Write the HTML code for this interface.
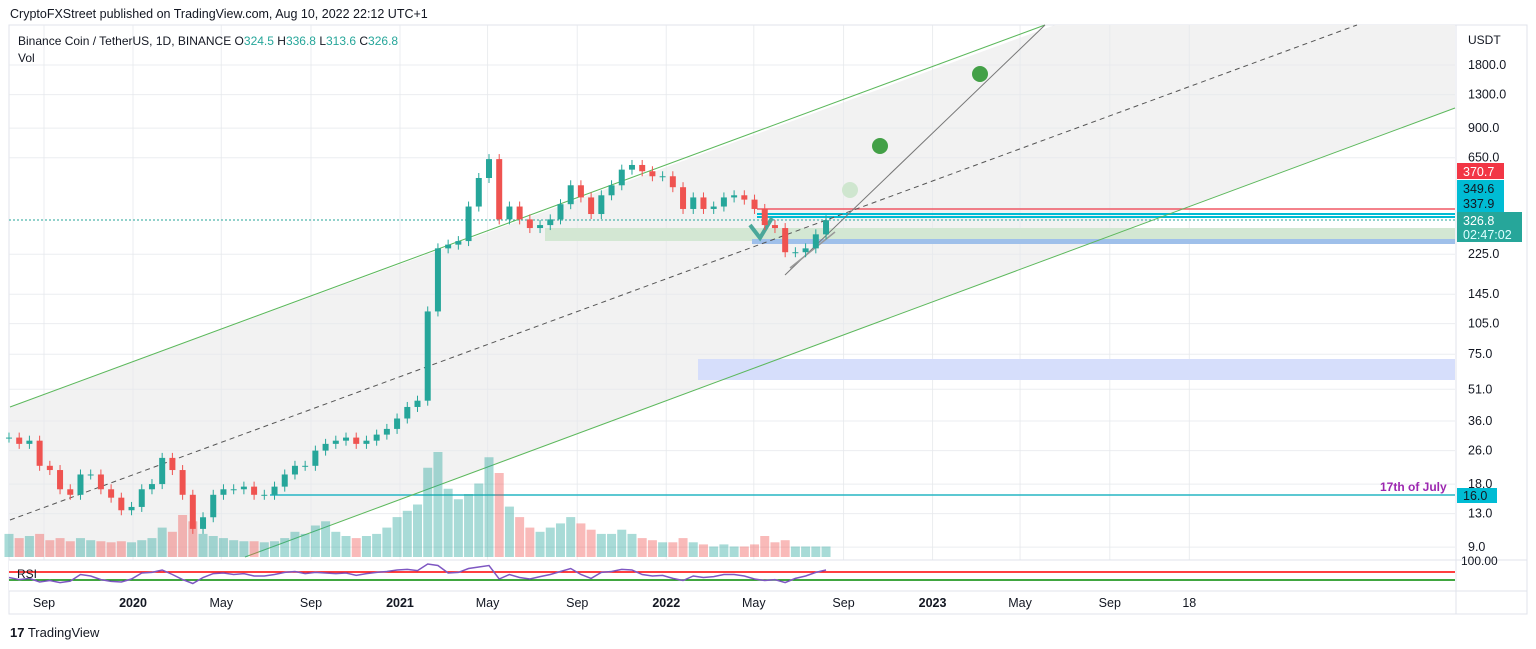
<!DOCTYPE html>
<html><head><meta charset="utf-8"><style>
body{margin:0;background:#fff;font-family:"Liberation Sans",sans-serif;}
svg{display:block}
text{font-family:"Liberation Sans",sans-serif}
</style></head><body>
<svg id="c" width="1536" height="649" viewBox="0 0 1536 649">
<text x="10" y="18" font-size="12.5" fill="#131722">CryptoFXStreet published on TradingView.com, Aug 10, 2022 22:12 UTC+1</text>
<rect x="9" y="25" width="1518" height="589" fill="#fff" stroke="#e0e3eb"/>
<polygon points="10,407 1055,25 1455,25 1455,108 245,557 10,557" fill="#f2f2f2"/>
<g id="grid2"></g>
<rect x="698" y="359" width="757" height="21" fill="#d6defb"/>
<rect x="545" y="228" width="910" height="13" fill="#d3e7d3"/>
<rect x="752" y="239" width="703" height="5" fill="#9fc0ea"/>
<line x1="757" y1="209" x2="1455" y2="209" stroke="#f05865" stroke-width="1.5"/>
<line x1="757" y1="214" x2="1455" y2="214" stroke="#00bcd4" stroke-width="2"/>
<line x1="757" y1="217" x2="1455" y2="217" stroke="#00bcd4" stroke-width="2"/>
<line x1="9" y1="220" x2="1455" y2="220" stroke="#26a69a" stroke-dasharray="2,2"/>
<line x1="270" y1="495" x2="1455" y2="495" stroke="#26b5c4" stroke-width="1.5"/>
<line x1="10" y1="407" x2="1045" y2="25" stroke="#5cb85c"/>
<line x1="245" y1="557" x2="1455" y2="108" stroke="#5cb85c"/>
<line x1="10" y1="520" x2="1357" y2="25" stroke="#555" stroke-dasharray="5,4"/>
<line x1="785" y1="275" x2="1045" y2="25" stroke="#777"/>
<line x1="790" y1="268" x2="835" y2="232" stroke="#999" stroke-width="1.5"/>
<polyline points="750,225 760,238 772,218" fill="none" stroke="#4aa79a" stroke-width="4"/>
<circle cx="980" cy="74" r="8" fill="#43a047"/>
<circle cx="880" cy="146" r="8" fill="#43a047"/>
<circle cx="850" cy="190" r="8" fill="#cfe6cf"/>
<g id="vol"></g>
<g id="candles"></g>
<text x="18" y="45" font-size="12" fill="#131722">Binance Coin / TetherUS, 1D, BINANCE <tspan>O</tspan><tspan fill="#26a69a">324.5 </tspan>H<tspan fill="#26a69a">336.8 </tspan>L<tspan fill="#26a69a">313.6 </tspan>C<tspan fill="#26a69a">326.8</tspan></text>
<text x="18" y="62" font-size="12" fill="#131722">Vol</text>
<rect x="9" y="560" width="1446" height="31" fill="#fff"/>
<line x1="9" y1="560" x2="1527" y2="560" stroke="#e0e3eb"/>
<line x1="9" y1="572" x2="1455" y2="572" stroke="#f00" stroke-width="1.5"/>
<line x1="9" y1="580" x2="1455" y2="580" stroke="#080" stroke-width="1.5"/>
<g id="rsi"></g>
<text x="17" y="578" font-size="12" fill="#131722">RSI</text>
<line x1="9" y1="591" x2="1527" y2="591" stroke="#e0e3eb"/>
<line x1="1456" y1="25" x2="1456" y2="614" stroke="#e0e3eb"/>
<g id="yax"></g>
<g id="xax"></g>
<text x="1468" y="44" font-size="12" fill="#131722">USDT</text>
<text x="1461" y="565" font-size="12" fill="#131722">100.00</text>
<rect x="1457" y="163" width="47" height="16" fill="#f23645"/>
<text x="1463" y="176" font-size="12.5" fill="#fff">370.7</text>
<rect x="1457" y="180" width="47" height="32" fill="#00bcd4"/>
<text x="1463" y="193" font-size="12.5" fill="#131722">349.6</text>
<text x="1463" y="208" font-size="12.5" fill="#131722">337.9</text>
<rect x="1457" y="212" width="65" height="30" fill="#26a69a"/>
<text x="1463" y="225" font-size="12.5" fill="#fff">326.8</text>
<text x="1463" y="239" font-size="12.5" fill="#dff">02:47:02</text>
<text x="1380" y="491" font-size="12" font-weight="bold" fill="#9c27b0">17th of July</text>
<rect x="1457" y="488" width="40" height="15" fill="#00bcd4"/>
<text x="1463" y="500" font-size="12.5" fill="#131722">16.0</text>
<text x="10" y="637" font-size="13" fill="#131722"><tspan font-weight="bold">17</tspan> TradingView</text>
</svg>
<script>
var closes=[30,28,29,22,21,17,16,20,20,17,15.5,13.5,14,17,18,24,21,16,11,12.5,16,17,17,17.5,16,16,17.5,20,22,22,26,28,29,30,28,29,31,33,37,42,45,120,240,250,260,380,520,640,330,380,330,300,310,330,390,480,420,350,430,480,570,600,560,530,530,470,370,420,370,380,420,430,410,370,310,300,230,230,240,280,327];
var volumes=[22,18,20,22,16,18,15,18,16,15,14,15,14,16,18,28,24,40,34,22,20,18,16,15,15,14,15,18,24,22,30,34,24,20,18,20,22,28,38,44,50,85,100,65,55,60,70,95,80,48,38,28,24,28,32,38,32,26,22,22,26,22,18,16,14,14,18,14,12,10,12,10,10,12,20,14,16,10,10,10,10];
var rsiVals=[45,38,42,30,35,28,33,55,50,38,32,30,40,60,62,70,55,38,25,45,58,60,55,58,50,50,55,62,65,58,62,60,58,60,52,58,62,65,70,72,68,90,85,60,62,75,80,85,40,55,45,40,48,55,65,75,55,42,62,65,72,70,55,50,52,42,35,50,45,48,55,55,50,40,35,38,28,42,50,62,70];
var priceTicks=[1800,1300,900,650,225,145,105,75,51,36,26,18,13,9];
var timeTicks=[["Sep",-122,0],["2020",0,1],["May",121,0],["Sep",244,0],["2021",366,1],["May",486,0],["Sep",609,0],["2022",731,1],["May",851,0],["Sep",974,0],["2023",1096,1],["May",1216,0],["Sep",1339,0],["18",1448,0]];
var startDay=-170, stepDays=14;
function X(d){return 133+d*0.7295;}
function Y(p){return 65+Math.log(1800/p)*91;}
var NS="http://www.w3.org/2000/svg";
function mk(t,a,parent){var e=document.createElementNS(NS,t);for(var k in a)e.setAttribute(k,a[k]);parent.appendChild(e);return e;}
var grid=document.getElementById('grid2');
priceTicks.forEach(function(p){
  var l=mk('line',{x1:9,x2:1455,y1:Y(p),y2:Y(p),stroke:'#e6e8ec','stroke-opacity':0.8},grid);
  
  
  var t=mk('text',{x:1468,y:Y(p)+4,'font-size':12.5,fill:'#131722'},document.getElementById('yax'));
  t.textContent=p.toFixed(1);
  
  
});
timeTicks.forEach(function(tt){
  var x=X(tt[1]);
  var l=mk('line',{x1:x,x2:x,y1:25,y2:591,stroke:'#e6e8ec','stroke-opacity':0.8},grid);
  
  
  var t=mk('text',{x:x,y:607,'font-size':12.5,fill:'#131722','text-anchor':'middle','font-weight':tt[2]?'bold':'normal'},document.getElementById('xax'));
  t.textContent=tt[0];
  
  
});
var cg=document.getElementById('candles'),vg=document.getElementById('vol');
var maxV=Math.max.apply(null,volumes);
for(var i=0;i<closes.length;i++){
  var o=i?closes[i-1]:closes[0],c=closes[i];
  var up=c>=o,x=X(startDay+i*stepDays);
  var y1=Y(Math.max(o,c)),y2=Y(Math.min(o,c));
  var col=up?'#26a69a':'#ef5350';
  var w=mk('line',{x1:x,x2:x,y1:y1-5,y2:y2+5,stroke:col},cg);
  
  
  var r=mk('rect',{x:x-3,y:y1,width:6,height:Math.max(1,y2-y1),fill:col},cg);
  
  
  var h=volumes[i]/maxV*105;
  var v=mk('rect',{x:x-4.5,y:557-h,width:9,height:h,fill:col,opacity:0.4},vg);
  
  
}
var pts=rsiVals.map(function(v,i){return X(startDay+i*stepDays)+','+(585-(v-20)*0.3);}).join(' ');
var pl=mk('polyline',{points:pts,fill:'none',stroke:'#7e57c2','stroke-width':1.5},document.getElementById('rsi'));


</script>
</body></html>
